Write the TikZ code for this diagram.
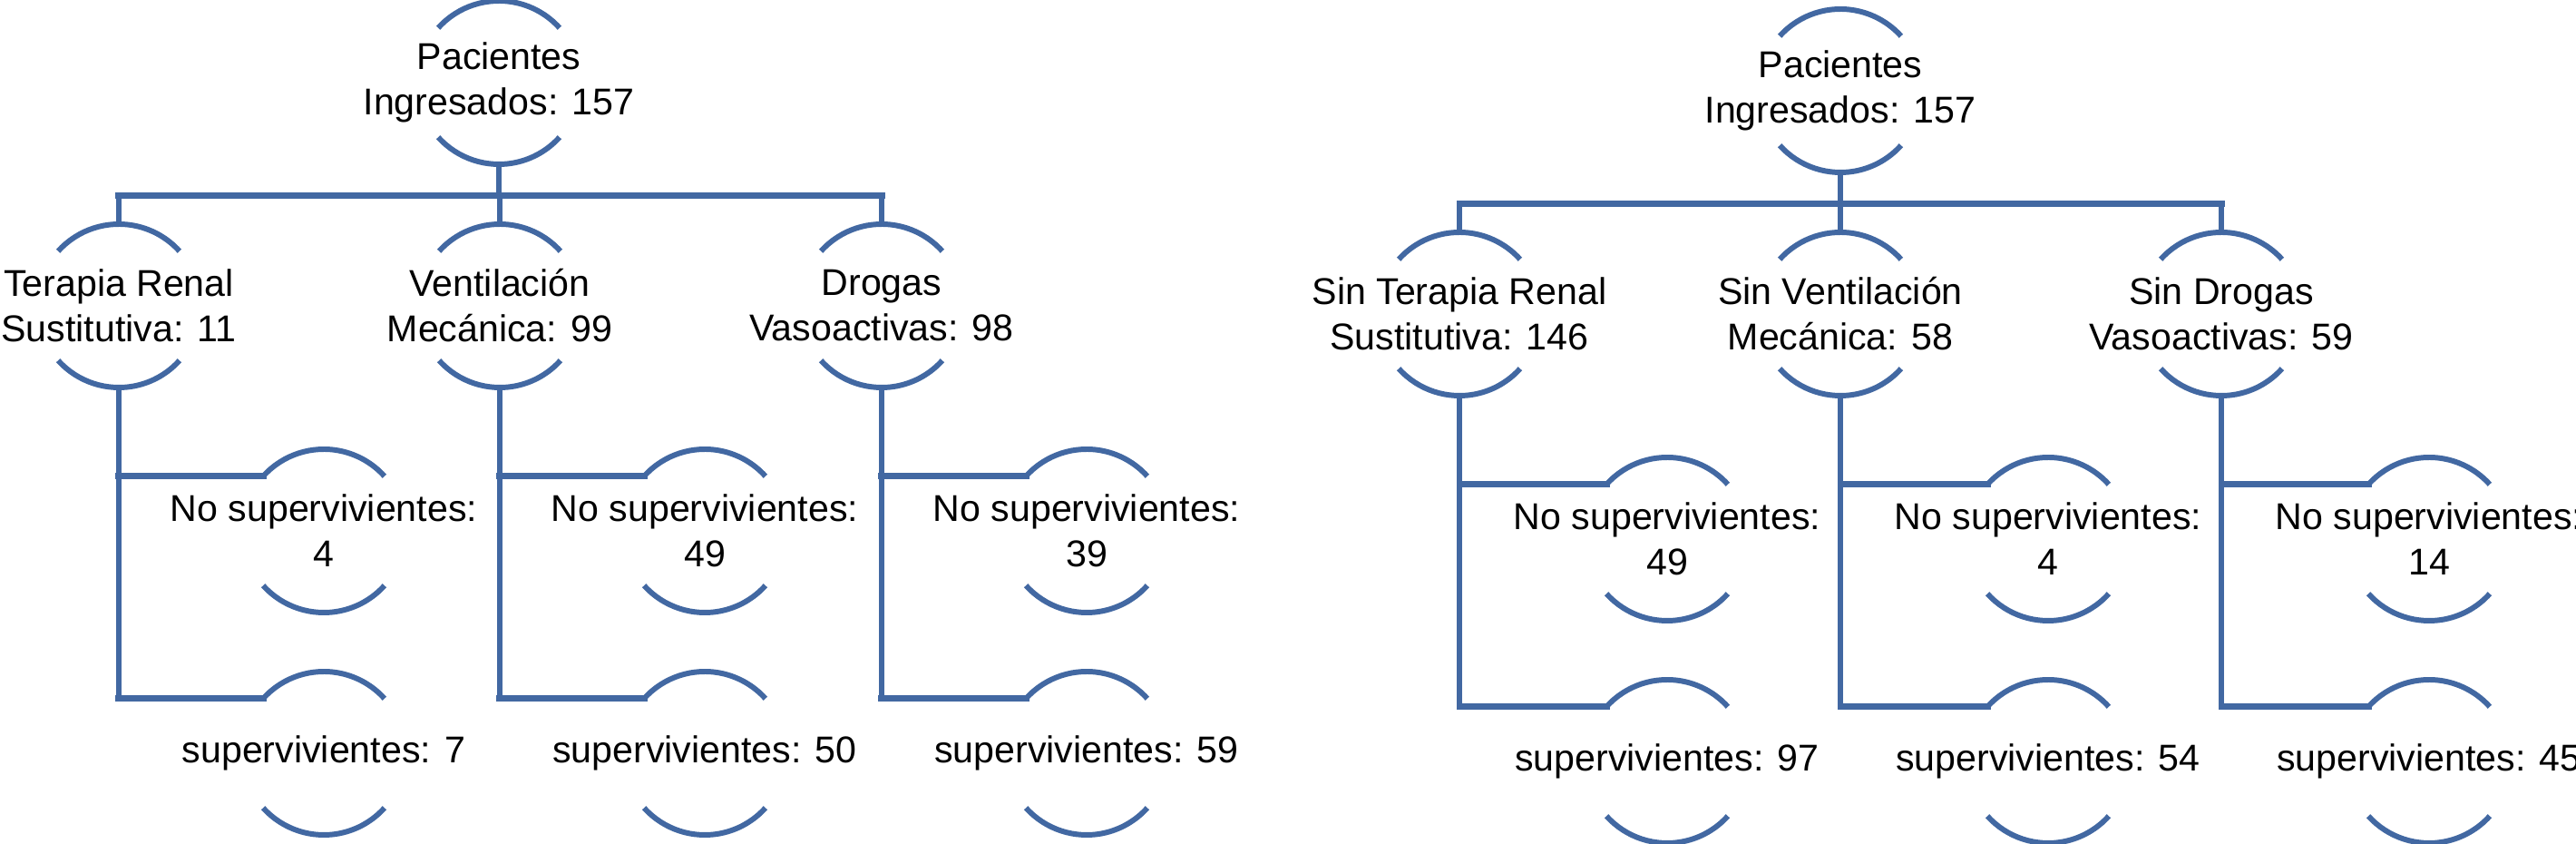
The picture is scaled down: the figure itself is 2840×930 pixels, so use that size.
\documentclass[tikz,border=0pt]{standalone}
\usepackage{fontspec}
\setmainfont{Liberation Sans}
\usetikzlibrary{calc}
\definecolor{azul}{RGB}{66,104,162}
\tikzset{
  caja/.style={align=center, inner sep=0pt, font=\fontsize{11.7}{14.2}\selectfont},
  arco/.style={draw=azul, line width=1.7pt},
  linea/.style={draw=azul, line width=1.5pt, line cap=rect},
  barra/.style={draw=azul, line width=2pt, line cap=rect},
}
% dos arcos (arriba y abajo) alrededor de un nodo
\newcommand\arcos[1]{%
  \draw[arco] ([shift={(138:9mm)}]#1.center) arc[start angle=138, end angle=42, radius=9mm];
  \draw[arco] ([shift={(222:9mm)}]#1.center) arc[start angle=222, end angle=318, radius=9mm];
}
% rama de un nodo hacia sus dos resultados
\newcommand\rama[3]{%
  \coordinate (#2-w) at ([shift={(138:9mm)}]#2.center);
  \coordinate (#3-w) at ([shift={(138:9mm)}]#3.center);
  \draw[linea] ([yshift=-9mm]#1.center) -- (#1.center |- #3-w);
  \draw[barra] (#1.center |- #2-w) -- (#2-w);
  \draw[barra] (#1.center |- #3-w) -- (#3-w);
}

\begin{document}
\begin{tikzpicture}[x=0.1mm, y=-0.1mm]
  \useasboundingbox (0,0) rectangle (2840,930);

  % Con soporte
  \node[caja] (pac1) at (550,91) {Pacientes\\Ingresados: 157};
  \node[caja] (trs1) at (131,337) {Terapia Renal\\Sustitutiva: 11};
  \node[caja] (vm1) at (551,337) {Ventilación\\Mecánica: 99};
  \node[caja] (dva1) at (972,337) {Drogas\\Vasoactivas: 98};
  \node[caja] (trs1no) at (357,585) {No supervivientes:\\4};
  \node[caja] (vm1no) at (777,585) {No supervivientes:\\49};
  \node[caja] (dva1no) at (1198,585) {No supervivientes:\\39};
  \node[caja] (trs1si) at (357,830) {supervivientes: 7};
  \node[caja] (vm1si) at (777,830) {supervivientes: 50};
  \node[caja] (dva1si) at (1198,830) {supervivientes: 59};

  % Sin soporte
  \node[caja] (pac2) at (2029,100) {Pacientes\\Ingresados: 157};
  \node[caja] (trs2) at (1609,346) {Sin Terapia Renal\\Sustitutiva: 146};
  \node[caja] (vm2) at (2029,346) {Sin Ventilación\\Mecánica: 58};
  \node[caja] (dva2) at (2449,346) {Sin Drogas\\Vasoactivas: 59};
  \node[caja] (trs2no) at (1838,594) {No supervivientes:\\49};
  \node[caja] (vm2no) at (2258,594) {No supervivientes:\\4};
  \node[caja] (dva2no) at (2678,594) {No supervivientes:\\14};
  \node[caja] (trs2si) at (1838,839) {supervivientes: 97};
  \node[caja] (vm2si) at (2258,839) {supervivientes: 54};
  \node[caja] (dva2si) at (2678,839) {supervivientes: 45};

  % Arcos
  \foreach \n in {pac1,trs1,vm1,dva1,trs1no,vm1no,dva1no,trs1si,vm1si,dva1si,
                  pac2,trs2,vm2,dva2,trs2no,vm2no,dva2no,trs2si,vm2si,dva2si}
    {\arcos{\n}}

  % Raiz hacia los soportes
  \foreach \r/\a/\b/\c in {pac1/trs1/vm1/dva1, pac2/trs2/vm2/dva2} {
    \coordinate (\r-bar) at ([yshift=-12.5mm]\r.center);
    \draw[linea] ([yshift=-9mm]\r.center) -- (\r-bar);
    \draw[barra] (\a.center |- \r-bar) -- (\c.center |- \r-bar);
    \foreach \h in {\a,\b,\c}
      \draw[linea] (\h.center |- \r-bar) -- ([yshift=9mm]\h.center);
  }

  % Soportes hacia resultados
  \foreach \h in {trs1,vm1,dva1,trs2,vm2,dva2}
    {\rama{\h}{\h no}{\h si}}
\end{tikzpicture}
\end{document}
